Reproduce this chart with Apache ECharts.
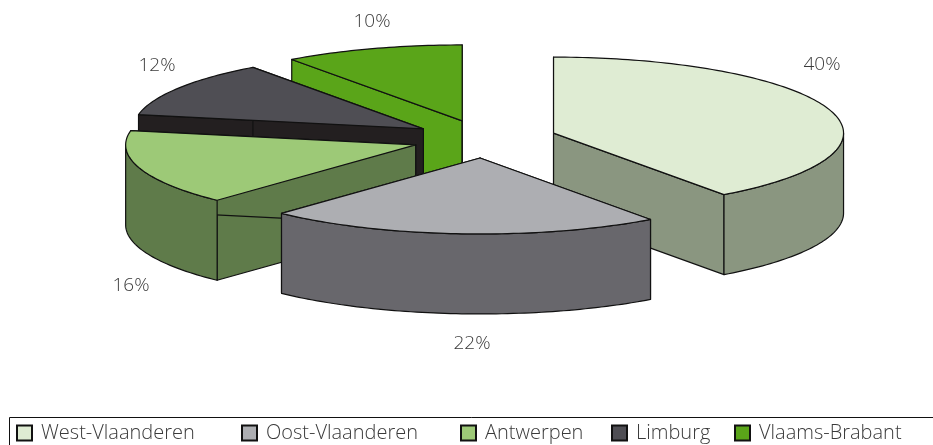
<!DOCTYPE html>
<html>
<head>
<meta charset="utf-8">
<title>Provincies</title>
<script src="https://cdn.jsdelivr.net/npm/echarts@6/dist/echarts.min.js"></script>
<style>
  html, body { margin: 0; padding: 0; background: #fff; }
  #chart { width: 933px; height: 445px; }
</style>
</head>
<body>
<div id="chart"></div>
<script>
const provinces = ["West-Vlaanderen", "Oost-Vlaanderen", "Antwerpen", "Limburg", "Vlaams-Brabant"]
const shares = [40, 22, 16, 12, 10]
const topColors = ["#dfecd3", "#adaeb2", "#9dc977", "#4f4e54", "#5aa519"]
const wallColors = ["#8a9680", "#68676c", "#5f7b4a", "#231f20", "#5aa519"]

// back to front, the pie is flat so overlap decides the order
const paintOrder = [4, 3, 2, 0, 1]

const pie = { cx: 484.6, cy: 139, rx: 290, ry: 76, depth: 80, explode: 0.25 }
const labelSpots = [[822, 65], [472, 344], [131, 286], [157, 66], [372, 22]]
const legendLefts = [16, 241, 460, 611, 734]

const total = shares.reduce((a, b) => a + b, 0)
const startAngles = shares.map((_, i) =>
  shares.slice(0, i).reduce((a, b) => a + b, 0) / total * Math.PI * 2)

function onRim(center, angle, drop) {
  return [
    center[0] + Math.sin(angle) * pie.rx,
    center[1] - Math.cos(angle) * pie.ry + drop
  ]
}

function rimPoints(center, from, to, drop) {
  const pts = []
  const steps = Math.max(2, Math.ceil((to - from) / 0.02))
  for (let s = 0; s <= steps; s++) {
    pts.push(onRim(center, from + (to - from) * s / steps, drop))
  }
  return pts
}

function face(points, fill) {
  return {
    type: "polygon",
    shape: { points },
    style: { fill, stroke: "#111", lineWidth: 1.2, lineJoin: "round" }
  }
}

function renderSlice(idx) {
  return function () {
    const from = startAngles[idx]
    const to = from + shares[idx] / total * Math.PI * 2
    const mid = (from + to) / 2
    const center = [
      pie.cx + Math.sin(mid) * pie.explode * pie.rx,
      pie.cy - Math.cos(mid) * pie.explode * pie.ry
    ]
    const d = pie.depth
    const children = []

    // radial walls
    ;[from, to].forEach(a => {
      const rim = onRim(center, a, 0)
      children.push(face([center, rim, [rim[0], rim[1] + d], [center[0], center[1] + d]], wallColors[idx]))
    })

    // outer wall, only the part that faces the viewer
    const a0 = Math.max(from, Math.PI / 2)
    const a1 = Math.min(to, Math.PI * 1.5)
    if (a1 > a0) {
      const upper = rimPoints(center, a0, a1, 0)
      const lower = rimPoints(center, a0, a1, d).reverse()
      children.push(face(upper.concat(lower), wallColors[idx]))
    }

    // top face
    children.push(face([center].concat(rimPoints(center, from, to, 0)), topColors[idx]))

    children.push({
      type: "text",
      style: {
        x: labelSpots[idx][0],
        y: labelSpots[idx][1],
        text: shares[idx] + "%",
        fill: "#3a3a3a",
        font: '300 19px "Open Sans"',
        align: "center",
        verticalAlign: "middle"
      }
    })

    return { type: "group", children }
  }
}

const chart = echarts.init(document.getElementById("chart"), null, { renderer: "canvas" })

chart.setOption({
  animation: false,
  backgroundColor: "#fff",
  legend: provinces.map((name, i) => ({
    data: [name],
    left: legendLefts[i],
    top: 423,
    padding: 0,
    icon: "rect",
    itemWidth: 15,
    itemHeight: 15,
    itemGap: 0,
    selectedMode: false,
    textStyle: {
      fontFamily: "Open Sans",
      fontWeight: 300,
      fontSize: 20,
      color: "#3a3a3a",
      padding: [0, 0, 0, 4]
    }
  })),
  graphic: [
    {
      type: "polyline",
      shape: { points: [[9.5, 445], [9.5, 417.5], [933, 417.5]] },
      style: { stroke: "#111", lineWidth: 1, fill: null }
    }
  ],
  series: paintOrder.map(i => ({
    type: "custom",
    name: provinces[i],
    coordinateSystem: "none",
    renderItem: renderSlice(i),
    data: [shares[i]],
    itemStyle: { color: topColors[i], borderColor: "#111", borderWidth: 1.2 },
    silent: true
  }))
})
</script>
</body>
</html>
